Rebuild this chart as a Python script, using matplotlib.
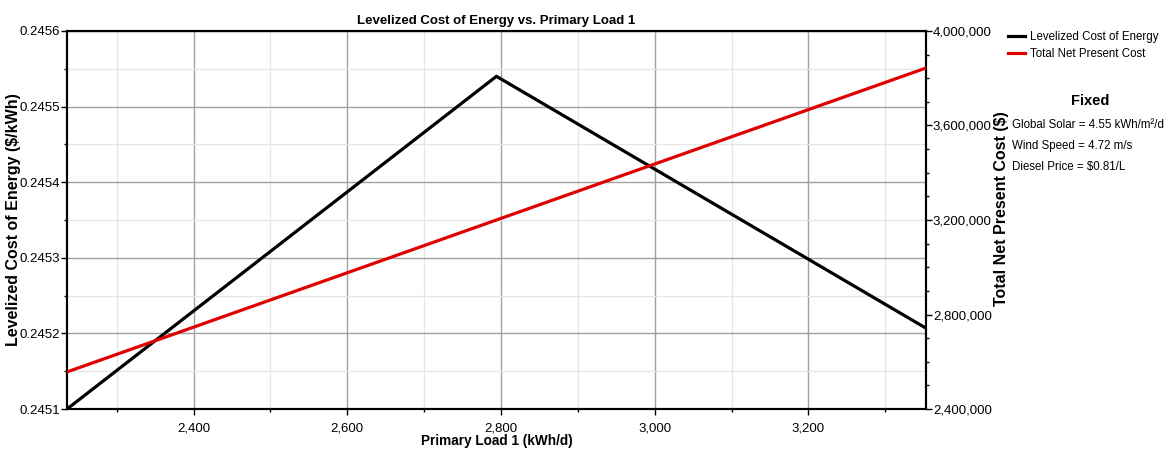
import matplotlib.pyplot as plt
from matplotlib.ticker import MultipleLocator, FuncFormatter

plt.rcParams['font.family'] = ['Liberation Sans', 'DejaVu Sans']

load = [2235.2, 2794.0, 3352.8]
coe = [0.24510, 0.245540, 0.245207]
npc = [2557000, 3200000, 3843000]

fixed_labels = ['Global Solar = 4.55 kWh/m²/d', 'Wind Speed = 4.72 m/s', 'Diesel Price = $0.81/L']

fig = plt.figure(figsize=(11.75, 4.55), dpi=100)
ax = fig.add_axes([0.057, 0.101, 0.731, 0.831])
ax2 = ax.twinx()

l1, = ax.plot(load, coe, color='black', lw=2.3, zorder=5)
l2, = ax2.plot(load, npc, color='#e00000', lw=2.3, zorder=5)

ax.set_xlim(load[0], load[-1])
ax.set_ylim(0.2451, 0.2456)
ax2.set_ylim(2400000, 4000000)

ax.xaxis.set_major_locator(MultipleLocator(200))
ax.xaxis.set_minor_locator(MultipleLocator(100))
ax.yaxis.set_major_locator(MultipleLocator(0.0001))
ax.yaxis.set_minor_locator(MultipleLocator(0.00005))
ax2.yaxis.set_major_locator(MultipleLocator(400000))
ax2.yaxis.set_minor_locator(MultipleLocator(100000))

ax.xaxis.set_major_formatter(FuncFormatter(lambda v, p: f'{v:,.0f}'))
ax.yaxis.set_major_formatter(FuncFormatter(lambda v, p: f'{v:.4f}'))
ax2.yaxis.set_major_formatter(FuncFormatter(lambda v, p: f'{v:,.0f}'))

ax.grid(which='major', color='#a0a0a0', lw=1.0)
ax.grid(which='minor', color='#e6e6e6', lw=1.0)
ax.set_axisbelow(True)
# light second line under the top border
ax.axhline(0.2456, color='#b0b0b0', lw=1.0, zorder=1)

for a in (ax, ax2):
    a.tick_params(which='major', length=4, width=1, labelsize=9.5, colors='black', pad=1)
    a.tick_params(which='minor', length=2, width=1)
    for s in a.spines.values():
        s.set_linewidth(1.5)
ax.tick_params(axis='x', pad=6)

ax.set_title('Levelized Cost of Energy vs. Primary Load 1', fontsize=9.5, fontweight='bold', pad=5)
ax.set_xlabel('Primary Load 1 (kWh/d)', fontsize=9.8, fontweight='bold')
ax.xaxis.set_label_coords(0.5, -0.066)
ax.set_ylabel('Levelized Cost of Energy ($/kWh)', fontsize=11.5, fontweight='bold')
ax.yaxis.set_label_coords(-0.054, 0.5)
ax2.set_ylabel('Total Net Present Cost ($)', fontsize=11.5, fontweight='bold')
ax2.yaxis.set_label_coords(1.079, 0.53)

fig.legend([l1, l2], ['Levelized Cost of Energy', 'Total Net Present Cost'],
           loc='upper left', bbox_to_anchor=(1008 / 1175, 1 - 31 / 455), frameon=False,
           fontsize=8.3, handlelength=1.5, handletextpad=0.4, labelspacing=0.45,
           borderpad=0, borderaxespad=0)

fig.text(1090 / 1175, 1 - 101 / 455, 'Fixed', fontsize=10.5, fontweight='bold', ha='center', va='center')
for i, t in enumerate(fixed_labels):
    fig.text(1012 / 1175, 1 - (125 + i * 21) / 455, t, fontsize=8.3, ha='left', va='center')

fig.savefig('out.png', dpi=100)
